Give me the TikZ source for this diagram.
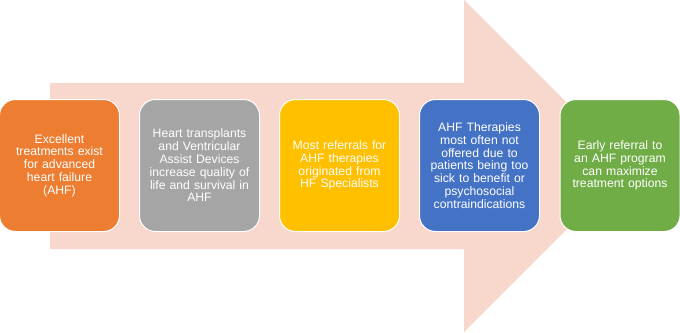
\documentclass[tikz,border=0pt]{standalone}
\usepackage{fontspec}
\setmainfont{Liberation Sans}
\definecolor{arrowpink}{HTML}{F8D7CD}
\definecolor{c1}{HTML}{ED7D31}
\definecolor{c2}{HTML}{A5A5A5}
\definecolor{c3}{HTML}{FFC000}
\definecolor{c4}{HTML}{4472C4}
\definecolor{c5}{HTML}{70AD47}
\begin{document}
\begin{tikzpicture}[x=1pt,y=-1pt,
  card/.style={draw=white,line width=1pt,rounded corners=16pt,minimum width=120pt,minimum height=132pt,
    text width=112pt,align=center,text=white,inner sep=0pt,
    font=\fontsize{12.2}{12.8}\selectfont},
]
\useasboundingbox (0,0) rectangle (680,332);
\fill[arrowpink] (50,83) -- (464,83) -- (464,0) -- (630,166) -- (464,332) -- (464,249) -- (50,249) -- cycle;
\node[card,fill=c1] (b1) at (59.5,165.5) {Excellent\\treatments exist\\for advanced\\heart failure\\(AHF)};
\node[card,fill=c2] (b2) at (199.5,165.5) {Heart transplants\\and Ventricular\\Assist Devices\\increase quality of\\life and survival in\\AHF};
\node[card,fill=c3] (b3) at (339.5,165.5) {Most referrals for\\AHF therapies\\originated from\\HF Specialists};
\node[card,fill=c4] (b4) at (479.5,165.5) {AHF Therapies\\most often not\\offered due to\\patients being too\\sick to benefit or\\psychosocial\\contraindications};
\node[card,fill=c5] (b5) at (620,165.5) {Early referral to\\an AHF program\\can maximize\\treatment options};
\end{tikzpicture}
\end{document}
